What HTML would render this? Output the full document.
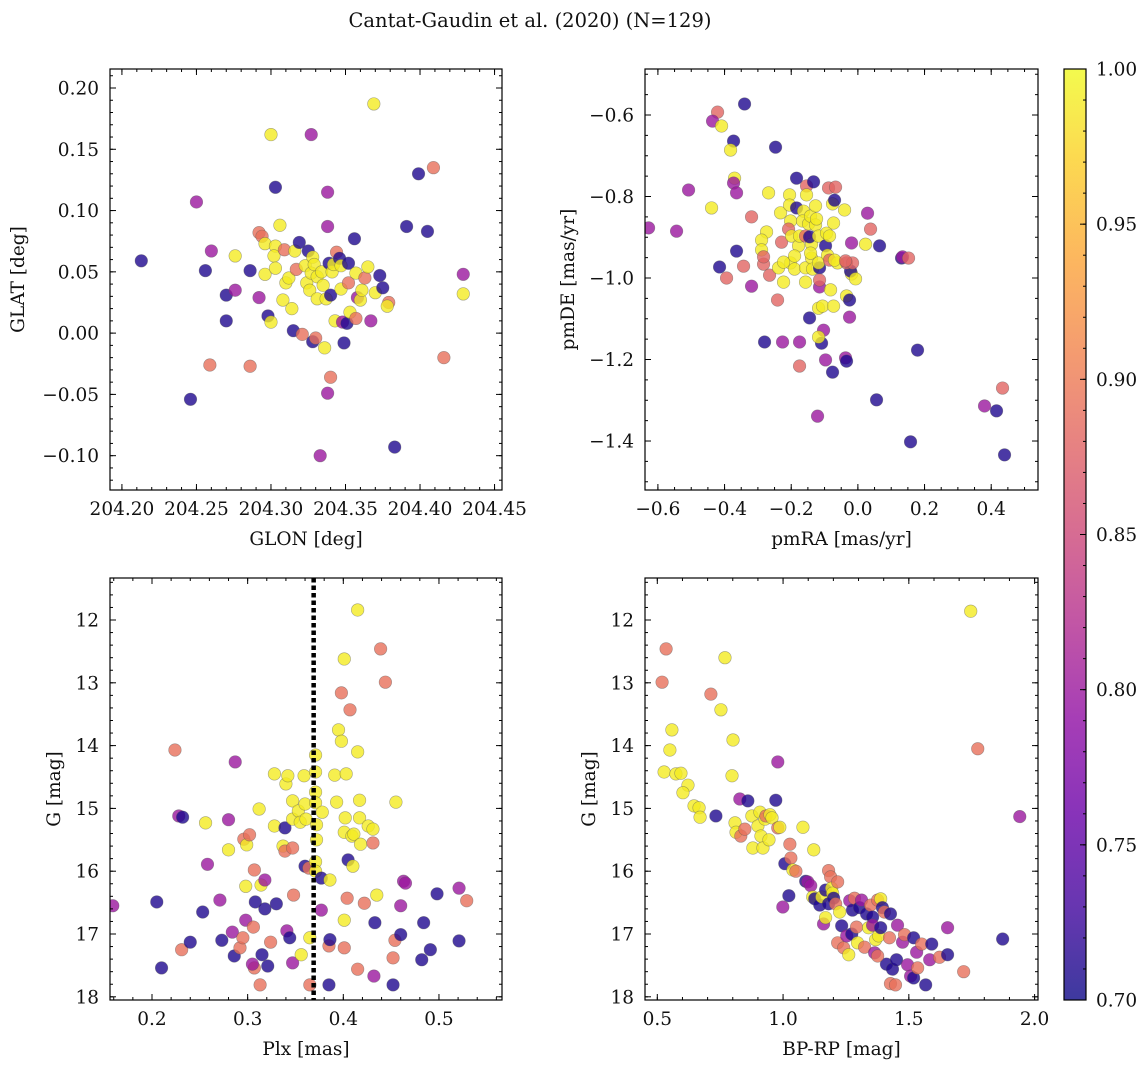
<!DOCTYPE html>
<html><head><meta charset="utf-8">
<style>
html,body{margin:0;padding:0;background:#fff;}
svg{display:block;font-family:"DejaVu Serif","Liberation Serif",serif;}
</style></head>
<body>
<svg id="fig" width="1148" height="1068" viewBox="0 0 1148 1068" xmlns="http://www.w3.org/2000/svg">
<text x="530" y="27" font-size="19.5" text-anchor="middle" fill="#111">Cantat-Gaudin et al. (2020) (N=129)</text>
</svg>
<script>
// Panel 1: GLON / GLAT / membership probability
const p1Glon=[204.213,204.250,204.256,204.260,204.246,204.259,204.270,204.270,204.276,204.276,204.286,204.286,204.292,204.292,204.294,204.296,204.296,204.300,204.298,204.300,204.303,204.303,204.302,204.303,204.306,204.308,204.309,204.310,204.312,204.314,204.316,204.317,204.315,204.319,204.321,204.323,204.324,204.325,204.326,204.327,204.327,204.328,204.328,204.329,204.331,204.331,204.330,204.333,204.334,204.335,204.336,204.337,204.338,204.338,204.338,204.340,204.339,204.340,204.341,204.342,204.343,204.344,204.346,204.347,204.347,204.348,204.349,204.351,204.352,204.352,204.353,204.356,204.357,204.357,204.358,204.360,204.361,204.363,204.365,204.367,204.369,204.370,204.373,204.375,204.379,204.378,204.383,204.391,204.399,204.405,204.409,204.416,204.429,204.429];
const p1Glat=[0.059,0.107,0.051,0.067,-0.054,-0.026,0.031,0.010,0.035,0.063,0.051,-0.027,0.029,0.082,0.079,0.073,0.048,0.162,0.014,0.009,0.119,0.071,0.063,0.053,0.088,0.027,0.068,0.041,0.045,0.020,0.067,0.052,0.002,0.074,-0.001,0.055,0.041,0.067,0.035,0.049,0.162,0.062,-0.007,0.056,0.046,0.028,-0.004,-0.100,0.050,0.039,-0.012,0.028,0.115,0.087,-0.049,-0.036,0.057,0.031,0.050,0.056,0.010,0.066,0.061,0.036,0.055,0.009,-0.008,0.008,0.057,0.041,0.017,0.077,0.049,0.012,0.029,0.027,0.035,0.045,0.054,0.010,0.187,0.033,0.047,0.037,0.025,0.022,-0.093,0.087,0.130,0.083,0.135,-0.020,0.048,0.032];
const p1Prob=[.71,.80,.71,.80,.71,.89,.71,.71,.80,.99,.71,.89,.80,.89,.89,.99,.99,.99,.71,.99,.71,.99,.99,.99,.99,.99,.89,.99,.99,.99,.99,.89,.71,.71,.89,.99,.99,.71,.99,.99,.80,.99,.71,.99,.99,.99,.89,.80,.99,.99,.99,.99,.80,.80,.80,.89,.71,.71,.99,.99,.99,.89,.71,.99,.99,.80,.71,.71,.71,.89,.99,.71,.99,.89,.80,.99,.99,.89,.99,.80,.99,.99,.71,.71,.89,.99,.71,.71,.71,.71,.89,.89,.80,.99];

// Panel 2: pmRA / pmDE
const p2Pmra=[-0.340,-0.421,-0.436,-0.409,-0.373,-0.382,-0.247,-0.370,-0.373,-0.364,-0.508,-0.439,-0.628,-0.544,-0.415,-0.364,-0.343,-0.394,-0.319,-0.319,-0.268,-0.274,-0.289,-0.289,-0.283,-0.265,-0.283,-0.241,-0.229,-0.232,-0.202,-0.208,-0.202,-0.190,-0.238,-0.223,-0.223,-0.205,-0.205,-0.199,-0.184,-0.184,-0.178,-0.190,-0.175,-0.157,-0.157,-0.157,-0.154,-0.163,-0.166,-0.154,-0.148,-0.142,-0.139,-0.139,-0.133,-0.145,-0.142,-0.136,-0.127,-0.127,-0.124,-0.118,-0.115,-0.118,-0.115,-0.118,-0.145,-0.115,-0.106,-0.103,-0.109,-0.121,-0.118,-0.097,-0.094,-0.091,-0.085,-0.085,-0.082,-0.088,-0.067,-0.076,-0.073,-0.061,-0.070,-0.073,-0.070,-0.076,-0.097,-0.175,-0.175,-0.226,-0.280,-0.034,-0.037,-0.025,-0.034,-0.025,-0.019,-0.022,-0.034,-0.016,-0.007,-0.037,-0.040,-0.019,0.023,0.029,0.038,0.065,0.056,0.131,0.134,0.152,0.179,0.158,0.380,0.416,0.434,0.440];
const p2Pmde=[-0.573,-0.593,-0.615,-0.627,-0.664,-0.686,-0.679,-0.755,-0.767,-0.791,-0.784,-0.828,-0.877,-0.885,-0.973,-0.934,-0.971,-1.000,-0.850,-1.020,-0.791,-0.887,-0.907,-0.931,-0.966,-0.993,-0.948,-1.054,-0.912,-0.840,-0.860,-0.880,-0.963,-0.978,-0.975,-0.961,-1.010,-0.796,-0.821,-0.897,-0.755,-0.828,-0.921,-0.946,-0.897,-0.897,-0.975,-1.010,-0.774,-0.836,-0.860,-0.796,-0.867,-0.848,-0.917,-0.951,-0.764,-0.899,-0.939,-0.978,-0.823,-0.870,-0.855,-0.897,-0.975,-0.963,-1.022,-1.074,-1.098,-1.005,-1.069,-1.128,-1.160,-1.339,-1.145,-0.921,-0.890,-0.944,-0.897,-0.956,-1.029,-0.779,-0.777,-0.818,-0.865,-0.963,-0.956,-1.069,-0.809,-1.231,-1.201,-1.216,-1.157,-1.157,-1.157,-1.044,-1.196,-1.054,-1.204,-1.096,-0.990,-0.983,-0.963,-0.963,-1.002,-0.958,-0.833,-0.914,-0.917,-0.841,-0.880,-0.921,-1.299,-0.951,-0.948,-0.951,-1.177,-1.402,-1.314,-1.326,-1.270,-1.434];
const p2Prob=[.71,.88,.80,.99,.71,.99,.71,.99,.80,.80,.80,.99,.80,.80,.71,.71,.88,.88,.88,.80,.99,.99,.99,.99,.88,.88,.88,.88,.88,.99,.99,.88,.99,.99,.99,.99,.99,.99,.99,.99,.71,.71,.99,.99,.99,.88,.99,.99,.88,.99,.99,.99,.99,.99,.99,.99,.71,.71,.99,.99,.99,.99,.99,.99,.71,.99,.80,.99,.71,.88,.99,.80,.71,.80,.99,.71,.99,.99,.99,.88,.99,.88,.88,.99,.99,.99,.99,.99,.71,.71,.80,.88,.80,.80,.71,.99,.80,.71,.71,.80,.99,.71,.88,.88,.99,.88,.99,.80,.99,.80,.88,.71,.71,.71,.80,.88,.71,.71,.80,.71,.88,.71];

// Panel 3: Plx / G
const p3Plx=[0.159,0.205,0.210,0.224,0.228,0.232,0.231,0.240,0.253,0.256,0.258,0.271,0.273,0.280,0.280,0.284,0.286,0.287,0.292,0.295,0.296,0.298,0.298,0.299,0.302,0.308,0.307,0.312,0.305,0.306,0.307,0.314,0.318,0.315,0.313,0.318,0.321,0.324,0.328,0.328,0.330,0.337,0.340,0.342,0.339,0.339,0.341,0.347,0.347,0.347,0.348,0.344,0.347,0.353,0.355,0.356,0.359,0.360,0.360,0.361,0.365,0.365,0.364,0.371,0.371,0.371,0.371,0.372,0.372,0.371,0.371,0.377,0.377,0.378,0.385,0.385,0.386,0.386,0.393,0.391,0.395,0.398,0.398,0.401,0.401,0.401,0.401,0.402,0.403,0.404,0.405,0.407,0.409,0.410,0.411,0.415,0.415,0.415,0.417,0.417,0.418,0.422,0.426,0.431,0.431,0.432,0.433,0.435,0.439,0.444,0.452,0.452,0.454,0.455,0.460,0.460,0.463,0.465,0.482,0.484,0.491,0.498,0.521,0.521,0.529];
const p3G=[16.55,16.49,17.54,14.07,15.12,15.14,17.25,17.13,16.65,15.23,15.89,16.46,17.10,15.66,15.18,16.97,17.35,14.26,17.22,17.06,15.49,16.78,16.24,15.58,15.42,16.49,17.54,15.01,17.48,16.89,15.98,16.22,16.14,17.33,17.81,16.60,17.51,17.13,14.45,15.28,16.52,15.60,14.61,14.48,15.31,15.68,16.95,14.88,15.63,15.17,16.38,17.06,17.46,15.04,15.22,17.33,14.48,14.93,15.92,15.17,17.81,17.06,15.95,14.15,14.42,14.74,14.91,15.26,15.50,15.85,16.00,16.11,16.62,15.06,17.81,17.19,16.14,17.09,14.90,14.47,13.75,13.16,13.93,12.62,16.78,17.22,15.38,15.15,14.45,16.43,15.82,13.43,15.44,15.92,15.41,17.56,14.10,11.84,14.87,15.15,15.57,16.51,15.28,15.55,15.33,17.67,16.82,16.38,12.46,12.99,17.81,17.38,17.10,14.90,16.55,17.01,16.16,16.19,17.41,16.82,17.25,16.36,16.27,17.11,16.47];
const p3Prob=[.80,.71,.71,.89,.80,.71,.89,.71,.71,.99,.80,.80,.71,.99,.80,.80,.71,.80,.89,.89,.89,.80,.99,.99,.89,.71,.89,.99,.80,.89,.89,.99,.80,.71,.89,.71,.71,.89,.99,.99,.71,.99,.99,.99,.71,.89,.80,.99,.89,.99,.89,.71,.80,.99,.99,.99,.99,.99,.71,.99,.89,.99,.89,.99,.99,.99,.99,.99,.99,.99,.99,.71,.80,.99,.71,.89,.99,.71,.99,.99,.99,.89,.99,.99,.99,.89,.99,.99,.99,.89,.71,.89,.99,.99,.99,.89,.99,.99,.99,.99,.99,.89,.99,.89,.99,.80,.71,.99,.89,.89,.71,.89,.89,.99,.80,.71,.80,.80,.71,.71,.71,.71,.80,.71,.89];

// Panel 4: BP-RP / G
const p4Bprp=[0.519,0.535,0.550,0.527,0.558,0.574,0.594,0.622,0.602,0.646,0.666,0.670,0.733,0.713,0.753,0.769,0.801,0.797,0.828,0.809,0.813,0.832,0.848,0.860,0.876,0.880,0.900,0.908,0.912,0.920,0.928,0.932,0.944,0.948,0.956,0.971,0.979,0.987,0.979,0.999,1.007,1.023,1.031,1.027,1.039,1.051,1.079,1.090,1.098,1.110,1.122,1.118,1.126,1.146,1.154,1.169,1.181,1.161,1.169,1.181,1.189,1.193,1.197,1.201,1.209,1.217,1.217,1.225,1.233,1.241,1.253,1.261,1.265,1.273,1.276,1.284,1.292,1.296,1.304,1.312,1.324,1.332,1.340,1.348,1.356,1.356,1.364,1.368,1.376,1.380,1.388,1.388,1.395,1.403,1.411,1.423,1.427,1.435,1.376,1.427,1.447,1.451,1.455,1.475,1.483,1.495,1.507,1.519,1.519,1.531,1.535,1.551,1.567,1.583,1.591,1.622,1.654,1.654,1.718,1.746,1.774,1.941,1.873];
const p4G=[12.99,12.46,14.07,14.42,13.75,14.45,14.44,14.63,14.75,14.96,14.99,15.14,15.12,13.18,13.43,12.60,13.91,14.48,14.85,15.23,15.38,15.44,15.33,14.88,15.12,15.63,15.28,15.06,15.44,15.63,15.17,15.12,15.50,15.10,15.15,14.87,15.31,15.30,14.26,16.57,15.88,16.39,15.79,15.57,15.98,16.00,15.30,16.16,16.17,16.23,15.66,16.41,16.44,16.54,16.41,16.30,16.52,16.84,16.74,15.99,16.09,16.27,16.35,16.43,16.52,16.17,17.14,16.65,16.87,17.22,17.03,17.33,16.47,17.00,16.62,16.43,16.89,17.14,16.58,16.46,17.21,16.68,16.90,16.54,16.73,16.86,17.30,17.09,16.46,17.03,16.44,16.90,16.58,16.65,17.48,17.06,16.68,17.56,17.35,17.79,17.81,17.41,16.86,17.13,17.01,17.49,17.67,17.06,17.70,17.29,17.54,17.16,17.81,17.41,17.16,17.37,16.90,17.33,17.60,11.86,14.05,15.13,17.08];
const p4Prob=[.89,.89,.99,.99,.99,.99,.99,.99,.99,.99,.99,.99,.71,.89,.99,.99,.99,.99,.80,.99,.99,.89,.89,.71,.99,.99,.99,.99,.99,.99,.99,.89,.99,.99,.99,.71,.89,.99,.80,.80,.71,.71,.89,.89,.99,.89,.99,.71,.80,.80,.99,.99,.71,.71,.99,.71,.71,.80,.99,.89,.89,.99,.99,.71,.89,.89,.89,.99,.71,.89,.80,.99,.80,.71,.71,.89,.89,.99,.71,.80,.89,.71,.99,.89,.71,.80,.80,.99,.89,.99,.99,.71,.71,.89,.71,.89,.71,.71,.89,.89,.89,.71,.80,.80,.89,.80,.80,.71,.71,.80,.89,.89,.71,.80,.71,.89,.80,.71,.89,.99,.89,.80,.71];

// Tick label arrays
const p1XTicks=[204.20,204.25,204.30,204.35,204.40,204.45];
const p1YTicks=[-0.10,-0.05,0.00,0.05,0.10,0.15,0.20];
const p2XTicks=[-0.6,-0.4,-0.2,0.0,0.2,0.4];
const p2YTicks=[-1.4,-1.2,-1.0,-0.8,-0.6];
const p3XTicks=[0.2,0.3,0.4,0.5];
const gTicks=[12,13,14,15,16,17,18];
const p4XTicks=[0.5,1.0,1.5,2.0];
const cbTicks=[0.70,0.75,0.80,0.85,0.90,0.95,1.00];
const plxCut=[0.369];

const NS='http://www.w3.org/2000/svg';
const svg=document.getElementById('fig');
function mk(tag,attrs,parent){const e=document.createElementNS(NS,tag);for(const k in attrs)e.setAttribute(k,attrs[k]);(parent||svg).appendChild(e);return e;}

const stops=[[13,8,135],[65,4,157],[106,0,168],[143,13,164],[177,42,144],[204,71,120],[225,100,98],[242,132,75],[252,166,54],[252,206,37],[240,249,33]];
function plasma(t){t=Math.max(0,Math.min(1,t));const f=t*10,i=Math.min(9,Math.floor(f)),r=f-i;const a=stops[i],b=stops[i+1];return 'rgb('+a.map((v,k)=>Math.round(v+(b[k]-v)*r)).join(',')+')';}
function col(p){return plasma((p-0.7)/0.3);}
function fmt(v,d){const s=v.toFixed(d);return v<0?'\u2212'+s.slice(1):s;}
const FS=18.5;

function panel(cfg){
  const g=mk('g',{});
  
  
  const {L,T,R,B,xmin,xmax,ymin,ymax}=cfg;
  const sx=v=>L+(v-xmin)/(xmax-xmin)*(R-L);
  const sy=cfg.invertY? (v=>T+(v-ymin)/(ymax-ymin)*(B-T)) : (v=>B-(v-ymin)/(ymax-ymin)*(B-T));
  const clip='clip-'+cfg.name;
  const cp=mk('clipPath',{id:clip},g);mk('rect',{x:L,y:T,width:R-L,height:B-T},cp);
  const pts=mk('g',{'clip-path':'url(#'+clip+')'},g);
  
  
  for(let i=0;i<cfg.xs.length;i++){
    const c=mk('circle',{cx:sx(cfg.xs[i]),cy:sy(cfg.ys[i]),r:6.3,fill:col(cfg.ps[i]),'fill-opacity':0.8,stroke:'#555','stroke-opacity':0.5,'stroke-width':0.6},pts);
    
    
  }
  if(cfg.vline){for(const v of cfg.vline){const l=mk('line',{x1:sx(v),x2:sx(v),y1:T,y2:B,stroke:'#000','stroke-width':4.5,'stroke-dasharray':'4.5 3'},pts);
    
    }}
  const fr=mk('rect',{x:L,y:T,width:R-L,height:B-T,fill:'none',stroke:'#000','stroke-width':1.2},g);
  
  
  const tk=mk('g',{stroke:'#000','stroke-width':1},g);
  for(let v=Math.ceil(xmin/cfg.xminor-1e-6)*cfg.xminor; v<=xmax+1e-9; v+=cfg.xminor){const x=sx(v);mk('line',{x1:x,x2:x,y1:B,y2:B-3},tk);mk('line',{x1:x,x2:x,y1:T,y2:T+3},tk);}
  for(let v=Math.ceil(ymin/cfg.yminor-1e-6)*cfg.yminor; v<=ymax+1e-9; v+=cfg.yminor){const y=sy(v);mk('line',{x1:L,x2:L+3,y1:y,y2:y},tk);mk('line',{x1:R,x2:R-3,y1:y,y2:y},tk);}
  for(const v of cfg.xt){const x=sx(v);mk('line',{x1:x,x2:x,y1:B,y2:B-6},tk);mk('line',{x1:x,x2:x,y1:T,y2:T+6},tk);
    const t=mk('text',{x:x,y:B+25,'font-size':FS,'text-anchor':'middle',fill:'#111'},g);t.textContent=fmt(v,cfg.xd);
    
    }
  for(const v of cfg.yt){const y=sy(v);mk('line',{x1:L,x2:L+6,y1:y,y2:y},tk);mk('line',{x1:R,x2:R-6,y1:y,y2:y},tk);
    const t=mk('text',{x:L-11,y:y+6.5,'font-size':FS,'text-anchor':'end',fill:'#111'},g);t.textContent=fmt(v,cfg.yd);
    
    }
  const xl=mk('text',{x:(L+R)/2,y:B+55,'font-size':FS,'text-anchor':'middle',fill:'#111'},g);xl.textContent=cfg.xlabel;
  
  
  const yl=mk('text',{x:0,y:0,'font-size':FS,'text-anchor':'middle',fill:'#111',transform:'translate('+cfg.ylx+','+((T+B)/2)+') rotate(-90)'},g);yl.textContent=cfg.ylabel;
  
  
}

panel({name:'glon-glat-panel',L:110,T:69,R:502,B:490,xmin:204.192,xmax:204.455,ymin:-0.128,ymax:0.2155,xs:p1Glon,ys:p1Glat,ps:p1Prob,xt:p1XTicks,yt:p1YTicks,xd:2,yd:2,xminor:0.01,yminor:0.01,xlabel:'GLON [deg]',ylabel:'GLAT [deg]',ylx:24});
panel({name:'proper-motion-panel',L:645,T:69,R:1038,B:490,xmin:-0.6387,xmax:0.5404,ymin:-1.5202,ymax:-0.4871,xs:p2Pmra,ys:p2Pmde,ps:p2Prob,xt:p2XTicks,yt:p2YTicks,xd:1,yd:1,xminor:0.05,yminor:0.05,xlabel:'pmRA [mas/yr]',ylabel:'pmDE [mas/yr]',ylx:574});
panel({name:'parallax-magnitude-panel',L:110,T:578,R:502,B:1000,xmin:0.1561,xmax:0.5659,ymin:11.331,ymax:18.051,invertY:true,xs:p3Plx,ys:p3G,ps:p3Prob,xt:p3XTicks,yt:gTicks,xd:1,yd:0,xminor:0.02,yminor:0.2,xlabel:'Plx [mas]',ylabel:'G [mag]',ylx:60,vline:plxCut});
panel({name:'color-magnitude-panel',L:645,T:578,R:1038,B:1000,xmin:0.4511,xmax:2.0135,ymin:11.331,ymax:18.051,invertY:true,xs:p4Bprp,ys:p4G,ps:p4Prob,xt:p4XTicks,yt:gTicks,xd:1,yd:0,xminor:0.1,yminor:0.2,xlabel:'BP-RP [mag]',ylabel:'G [mag]',ylx:595});

(function(){
  const L=1064,R=1086,T=69,B=1000;
  const cb=mk('g',{});
  
  
  const defs=mk('defs',{},cb);
  const lg=mk('linearGradient',{id:'cbgrad',x1:0,y1:1,x2:0,y2:0},defs);
  for(let i=0;i<=20;i++){mk('stop',{offset:(i/20),'stop-color':plasma(i/20)},lg);}
  mk('rect',{x:L,y:T,width:R-L,height:B-T,fill:'url(#cbgrad)','fill-opacity':0.8},cb);
  mk('rect',{x:L,y:T,width:R-L,height:B-T,fill:'none',stroke:'#000','stroke-width':1.2},cb);
  const sy=v=>B-(v-0.7)/0.3*(B-T);
  for(let k=0;k<=30;k++){const y=sy(0.7+k*0.01);mk('line',{x1:R,x2:R-3,y1:y,y2:y,stroke:'#000','stroke-width':1},cb);}
  for(const v of cbTicks){const y=sy(v);mk('line',{x1:R,x2:R-6,y1:y,y2:y,stroke:'#000','stroke-width':1},cb);
    const t=mk('text',{x:R+10,y:y+6.5,'font-size':FS,fill:'#111'},cb);t.textContent=v.toFixed(2);
    
    }
})();
</script>
</body></html>
